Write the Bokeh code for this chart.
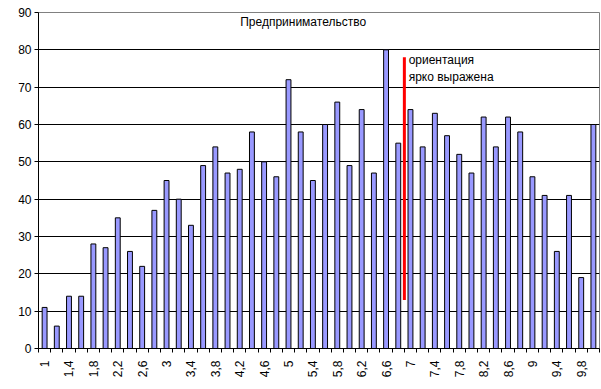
import numpy as np
from bokeh.plotting import figure
from bokeh.models import Range1d, FixedTicker, Label
from bokeh.embed import file_html
from bokeh.resources import INLINE

# ---- data ----
cat_values = [1.0, 1.2, 1.4, 1.6, 1.8, 2.0, 2.2, 2.4, 2.6, 2.8,
              3.0, 3.2, 3.4, 3.6, 3.8, 4.0, 4.2, 4.4, 4.6, 4.8,
              5.0, 5.2, 5.4, 5.6, 5.8, 6.0, 6.2, 6.4, 6.6, 6.8,
              7.0, 7.2, 7.4, 7.6, 7.8, 8.0, 8.2, 8.4, 8.6, 8.8,
              9.0, 9.2, 9.4, 9.6, 9.8, 10.0]
counts = [11, 6, 14, 14, 28, 27, 35, 26, 22, 37,
          45, 40, 33, 49, 54, 47, 48, 58, 50, 46,
          72, 58, 45, 60, 66, 49, 64, 47, 80, 55,
          64, 54, 63, 57, 52, 47, 62, 54, 62, 58,
          46, 41, 26, 41, 19, 60]
title_text = "Предпринимательство"
note_lines = ["ориентация", "ярко выражена"]
marker_value = 6.9          # position of the red marker on the scale
marker_span = [13, 78]      # vertical extent of the red marker
y_ticks = [0, 10, 20, 30, 40, 50, 60, 70, 80, 90]

def fmt(v):
    return str(int(v)) if float(v).is_integer() else ("%g" % v).replace(".", ",")

cat_labels = [fmt(v) for v in cat_values]
idx = np.arange(len(cat_values))

FONT = "Liberation Sans"

p = figure(width=601, height=389, output_backend="svg", toolbar_location=None,
           x_range=Range1d(-0.5, len(cat_values) - 0.5), y_range=Range1d(0, 90),
           min_border_left=38, min_border_right=2, min_border_top=12, min_border_bottom=41)

p.background_fill_color = "white"
p.border_fill_color = "white"
p.outline_line_color = "#808080"
p.outline_line_width = 1

p.vbar(x=idx, top=counts, width=0.4, bottom=0,
       fill_color="#9999FF", line_color="black", line_width=1)

# marker line between categories 6.8 and 7.0
i_lo = cat_values.index(6.8)
mx = i_lo + (marker_value - cat_values[i_lo]) / 0.2
p.segment(x0=[mx], y0=[marker_span[0]], x1=[mx], y1=[marker_span[1]],
          line_color="#FF0000", line_width=3)

for k, t in enumerate(note_lines):
    p.add_layout(Label(x=mx + 0.35, y=77.2 - k * 4.6, text=t, text_font=FONT,
                       text_font_size="12px", text_baseline="middle", text_color="black"))

p.add_layout(Label(x=(len(cat_values) - 1) / 2 - 1.3, y=87.5, text=title_text, text_font=FONT,
                   text_font_size="12px", text_align="center", text_baseline="middle",
                   text_color="black"))

# grid
p.xgrid.visible = False
p.ygrid.ticker = FixedTicker(ticks=y_ticks[1:-1])
p.ygrid.grid_line_color = "black"
p.ygrid.grid_line_width = 1

# y axis
p.yaxis.ticker = FixedTicker(ticks=y_ticks)
p.yaxis.axis_line_color = "black"
p.yaxis.major_tick_line_color = "black"
p.yaxis.major_tick_out = 4
p.yaxis.major_tick_in = 0
p.yaxis.minor_tick_line_color = None
p.yaxis.major_label_text_font = FONT
p.yaxis.major_label_text_font_size = "12px"
p.yaxis.major_label_text_color = "black"
p.yaxis.major_label_standoff = 3

# x axis: labels every other category, ticks at category boundaries
p.xaxis.ticker = FixedTicker(ticks=list(idx[::2]),
                             minor_ticks=list(np.arange(len(cat_values) + 1) - 0.5))
p.xaxis.major_label_overrides = {int(i): cat_labels[i] for i in idx[::2]}
p.xaxis.major_tick_out = 0
p.xaxis.major_tick_in = 0
p.xaxis.major_tick_line_color = None
p.xaxis.minor_tick_line_color = "black"
p.xaxis.minor_tick_out = 4
p.xaxis.minor_tick_in = 0
p.xaxis.axis_line_color = "black"
p.xaxis.major_label_orientation = np.pi / 2
p.xaxis.major_label_text_font = FONT
p.xaxis.major_label_text_font_size = "12px"
p.xaxis.major_label_text_color = "black"
p.xaxis.major_label_standoff = 8

open("out.html", "w").write(file_html(p, INLINE))
